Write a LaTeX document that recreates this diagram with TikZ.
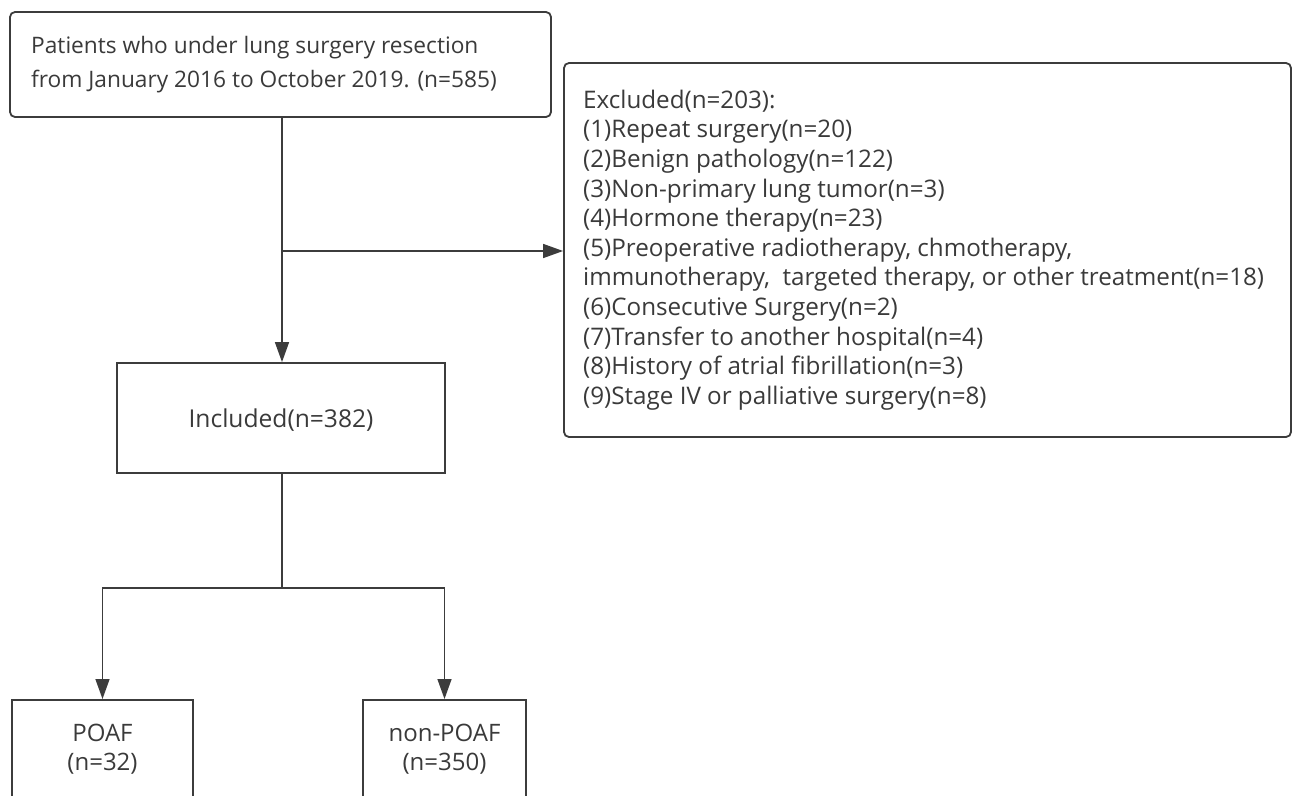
\documentclass[tikz,border=0pt]{standalone}
\usepackage{fontspec}
\setmainfont{Open Sans}
\usetikzlibrary{arrows.meta}
\definecolor{lncol}{HTML}{3C3C3C}
\definecolor{txcol}{HTML}{3A3A3A}
\begin{document}
\begin{tikzpicture}[x=1pt,y=-1pt,
  box/.style={draw=lncol, line width=1.8pt, fill=white, inner sep=0pt},
  rbox/.style={box, rounded corners=5pt},
  txt/.style={text=txcol, inner sep=0pt},
  conn/.style={draw=lncol, line width=1.4pt},
  arr/.style={conn, -{Triangle[length=20pt,width=14pt]}}
]
\fill[white] (0,0) rectangle (1292,795);
\useasboundingbox (0,0) rectangle (1292,795);
\clip (0,0) rectangle (1292,795);

% boxes
\node[rbox, minimum width=541pt, minimum height=105pt] (top) at (280.5,64.5) {};
\node[txt, anchor=west, align=left, font=\fontsize{22.7}{34}\selectfont] (toptxt) at (31,65)
  {Patients who under lung surgery resection\\from January 2016 to October 2019. (n=585)};

\node[rbox, minimum width=727pt, minimum height=374pt] (excl) at (927.5,250) {};
\node[txt, anchor=west, align=left, font=\fontsize{24.2}{29.6}\selectfont] (excltxt) at (583,250)
  {Excluded(n=203):\\
   (1)Repeat surgery(n=20)\\
   (2)Benign pathology(n=122)\\
   (3)Non-primary lung tumor(n=3)\\
   (4)Hormone therapy(n=23)\\
   (5)Preoperative radiotherapy, chmotherapy,\\
   immunotherapy, \ targeted therapy, or other treatment(n=18)\\
   (6)Consecutive Surgery(n=2)\\
   (7)Transfer to another hospital(n=4)\\
   (8)History of atrial fibrillation(n=3)\\
   (9)Stage IV or palliative surgery(n=8)};

\node[box, minimum width=328pt, minimum height=110pt] (incl) at (281,418) {};
\node[txt, font=\fontsize{24.6}{28}\selectfont] (incltxt) at (281,420) {Included(n=382)};

\node[box, minimum width=181pt, minimum height=140pt, anchor=north] (poaf) at (102.5,699) {};
\node[txt, align=center, font=\fontsize{24}{28.5}\selectfont] (poaftxt) at (102.5,749) {POAF\\(n=32)};

\node[box, minimum width=163pt, minimum height=140pt, anchor=north] (npoaf) at (444.5,699) {};
\node[txt, align=center, font=\fontsize{24}{28.5}\selectfont] (npoaftxt) at (444.5,749) {non-POAF\\(n=350)};

% connectors
\coordinate (j1) at (282,251);
\coordinate (j2) at (282,588);
\draw[arr] (282,117) coordinate (topout) -- (incl.north -| topout);
\draw[arr] (j1) -- (excl.west |- j1);
\draw[conn] (incl.south -| j2) -- (j2);
\draw[arr] (j2) -| (poaf.north);
\draw[arr] (j2) -| (npoaf.north);
\end{tikzpicture}
\end{document}
